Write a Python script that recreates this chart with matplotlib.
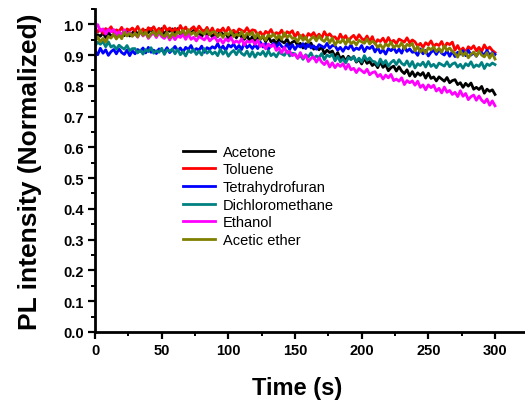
import numpy as np
import matplotlib
matplotlib.use("Agg")
import matplotlib.pyplot as plt
from matplotlib.ticker import MultipleLocator, FormatStrFormatter

plt.rcParams.update({
    "font.family": ["Liberation Sans", "DejaVu Sans"],
    "font.weight": "bold",
})

# time axis, one reading every 2 s
time = np.arange(0, 301, 2)

acetone = [
    0.952, 0.966, 0.961, 0.972, 0.957, 0.975, 0.960, 0.967, 0.957, 0.972, 0.968, 0.963, 0.978, 0.962, 0.972,
    0.981, 0.967, 0.977, 0.964, 0.980, 0.973, 0.986, 0.969, 0.977, 0.972, 0.986, 0.966, 0.981, 0.977, 0.985,
    0.972, 0.986, 0.967, 0.976, 0.962, 0.979, 0.971, 0.980, 0.963, 0.973, 0.959, 0.980, 0.964, 0.971, 0.959,
    0.973, 0.960, 0.980, 0.963, 0.973, 0.954, 0.965, 0.971, 0.956, 0.971, 0.958, 0.951, 0.964, 0.945, 0.960,
    0.945, 0.958, 0.951, 0.961, 0.943, 0.960, 0.943, 0.949, 0.937, 0.951, 0.945, 0.939, 0.952, 0.934, 0.942,
    0.946, 0.931, 0.938, 0.923, 0.937, 0.928, 0.939, 0.919, 0.925, 0.917, 0.927, 0.904, 0.916, 0.908, 0.913,
    0.895, 0.908, 0.888, 0.896, 0.880, 0.896, 0.887, 0.895, 0.877, 0.886, 0.871, 0.890, 0.873, 0.879, 0.866,
    0.873, 0.859, 0.878, 0.860, 0.869, 0.849, 0.859, 0.864, 0.848, 0.862, 0.848, 0.840, 0.852, 0.832, 0.846,
    0.830, 0.842, 0.834, 0.843, 0.825, 0.841, 0.824, 0.829, 0.816, 0.829, 0.822, 0.815, 0.827, 0.810, 0.817,
    0.820, 0.804, 0.810, 0.795, 0.808, 0.799, 0.809, 0.789, 0.795, 0.788, 0.798, 0.776, 0.789, 0.782, 0.787,
    0.772,
]
toluene = [
    0.989, 0.975, 0.984, 0.971, 0.986, 0.979, 0.992, 0.974, 0.982, 0.977, 0.990, 0.970, 0.985, 0.980, 0.988,
    0.978, 0.993, 0.975, 0.985, 0.971, 0.989, 0.982, 0.992, 0.976, 0.987, 0.974, 0.995, 0.980, 0.988, 0.977,
    0.987, 0.975, 0.996, 0.980, 0.991, 0.973, 0.985, 0.992, 0.978, 0.994, 0.982, 0.976, 0.990, 0.972, 0.988,
    0.969, 0.983, 0.977, 0.988, 0.972, 0.990, 0.974, 0.981, 0.970, 0.985, 0.980, 0.975, 0.989, 0.973, 0.982,
    0.980, 0.966, 0.975, 0.962, 0.977, 0.970, 0.983, 0.965, 0.973, 0.968, 0.981, 0.961, 0.976, 0.971, 0.979,
    0.959, 0.974, 0.956, 0.966, 0.952, 0.970, 0.963, 0.973, 0.957, 0.968, 0.955, 0.976, 0.961, 0.969, 0.958,
    0.959, 0.947, 0.968, 0.952, 0.963, 0.945, 0.957, 0.964, 0.950, 0.966, 0.954, 0.948, 0.962, 0.944, 0.960,
    0.936, 0.950, 0.944, 0.955, 0.939, 0.957, 0.941, 0.948, 0.937, 0.952, 0.947, 0.942, 0.956, 0.940, 0.949,
    0.943, 0.929, 0.938, 0.925, 0.940, 0.933, 0.946, 0.928, 0.936, 0.931, 0.944, 0.924, 0.939, 0.934, 0.942,
    0.916, 0.931, 0.913, 0.923, 0.909, 0.927, 0.920, 0.930, 0.914, 0.925, 0.912, 0.933, 0.918, 0.926, 0.915,
    0.908,
]
thf = [
    0.913, 0.901, 0.922, 0.906, 0.917, 0.899, 0.911, 0.918, 0.904, 0.920, 0.908, 0.902, 0.916, 0.898, 0.914,
    0.904, 0.918, 0.912, 0.923, 0.907, 0.925, 0.909, 0.916, 0.905, 0.920, 0.915, 0.910, 0.924, 0.908, 0.917,
    0.928, 0.914, 0.923, 0.910, 0.925, 0.918, 0.931, 0.913, 0.921, 0.916, 0.929, 0.909, 0.924, 0.919, 0.927,
    0.922, 0.937, 0.919, 0.929, 0.915, 0.933, 0.926, 0.936, 0.920, 0.931, 0.918, 0.939, 0.924, 0.932, 0.921,
    0.933, 0.921, 0.942, 0.926, 0.937, 0.919, 0.931, 0.938, 0.924, 0.940, 0.928, 0.922, 0.936, 0.918, 0.934,
    0.918, 0.932, 0.926, 0.937, 0.921, 0.939, 0.923, 0.930, 0.919, 0.934, 0.929, 0.924, 0.938, 0.922, 0.931,
    0.930, 0.916, 0.925, 0.912, 0.927, 0.920, 0.933, 0.915, 0.923, 0.918, 0.931, 0.911, 0.926, 0.921, 0.929,
    0.910, 0.925, 0.907, 0.917, 0.903, 0.921, 0.914, 0.924, 0.908, 0.919, 0.906, 0.927, 0.912, 0.920, 0.909,
    0.911, 0.899, 0.920, 0.904, 0.915, 0.897, 0.909, 0.916, 0.902, 0.918, 0.906, 0.900, 0.914, 0.896, 0.912,
    0.895, 0.909, 0.903, 0.914, 0.898, 0.916, 0.900, 0.907, 0.896, 0.911, 0.906, 0.901, 0.915, 0.899, 0.908,
    0.902,
]
dcm = [
    0.930, 0.942, 0.935, 0.944, 0.927, 0.943, 0.926, 0.931, 0.919, 0.932, 0.925, 0.919, 0.931, 0.914, 0.921,
    0.921, 0.907, 0.916, 0.903, 0.918, 0.911, 0.924, 0.906, 0.914, 0.909, 0.922, 0.902, 0.917, 0.912, 0.920,
    0.904, 0.919, 0.901, 0.911, 0.897, 0.915, 0.908, 0.918, 0.902, 0.913, 0.900, 0.921, 0.906, 0.914, 0.903,
    0.910, 0.898, 0.919, 0.903, 0.914, 0.896, 0.908, 0.915, 0.901, 0.917, 0.905, 0.899, 0.913, 0.895, 0.911,
    0.893, 0.907, 0.901, 0.912, 0.896, 0.914, 0.898, 0.905, 0.894, 0.909, 0.904, 0.899, 0.913, 0.897, 0.906,
    0.904, 0.890, 0.899, 0.886, 0.901, 0.894, 0.907, 0.889, 0.897, 0.892, 0.905, 0.885, 0.900, 0.895, 0.903,
    0.881, 0.896, 0.878, 0.888, 0.874, 0.892, 0.885, 0.895, 0.879, 0.890, 0.877, 0.898, 0.883, 0.891, 0.880,
    0.878, 0.866, 0.887, 0.871, 0.882, 0.864, 0.876, 0.883, 0.869, 0.885, 0.873, 0.867, 0.881, 0.863, 0.879,
    0.858, 0.872, 0.866, 0.877, 0.861, 0.879, 0.863, 0.870, 0.859, 0.874, 0.869, 0.864, 0.878, 0.862, 0.871,
    0.875, 0.861, 0.870, 0.857, 0.872, 0.865, 0.878, 0.860, 0.868, 0.863, 0.876, 0.856, 0.871, 0.866, 0.874,
    0.869,
]
ethanol = [
    0.987, 0.999, 0.978, 0.985, 0.968, 0.984, 0.975, 0.983, 0.966, 0.976, 0.962, 0.982, 0.967, 0.974, 0.962,
    0.970, 0.958, 0.978, 0.962, 0.972, 0.954, 0.965, 0.972, 0.957, 0.973, 0.960, 0.954, 0.967, 0.949, 0.964,
    0.950, 0.963, 0.957, 0.967, 0.951, 0.968, 0.951, 0.958, 0.946, 0.960, 0.955, 0.949, 0.962, 0.946, 0.954,
    0.958, 0.943, 0.952, 0.938, 0.953, 0.945, 0.957, 0.939, 0.946, 0.940, 0.953, 0.932, 0.946, 0.941, 0.948,
    0.935, 0.948, 0.928, 0.936, 0.920, 0.936, 0.927, 0.934, 0.915, 0.923, 0.907, 0.925, 0.907, 0.912, 0.898,
    0.903, 0.889, 0.908, 0.890, 0.899, 0.879, 0.889, 0.894, 0.877, 0.891, 0.877, 0.869, 0.881, 0.861, 0.875,
    0.859, 0.871, 0.863, 0.872, 0.854, 0.870, 0.852, 0.857, 0.843, 0.856, 0.849, 0.842, 0.854, 0.836, 0.843,
    0.846, 0.830, 0.837, 0.822, 0.835, 0.826, 0.837, 0.817, 0.822, 0.815, 0.826, 0.804, 0.817, 0.810, 0.816,
    0.802, 0.815, 0.795, 0.803, 0.787, 0.803, 0.794, 0.802, 0.783, 0.792, 0.777, 0.796, 0.779, 0.785, 0.772,
    0.779, 0.765, 0.784, 0.766, 0.775, 0.755, 0.765, 0.770, 0.753, 0.767, 0.753, 0.745, 0.757, 0.737, 0.751,
    0.735,
]
acetic_ether = [
    0.943, 0.959, 0.943, 0.954, 0.942, 0.961, 0.955, 0.967, 0.952, 0.965, 0.953, 0.975, 0.962, 0.971, 0.961,
    0.971, 0.959, 0.980, 0.964, 0.975, 0.957, 0.969, 0.976, 0.962, 0.978, 0.966, 0.960, 0.974, 0.956, 0.972,
    0.962, 0.976, 0.970, 0.981, 0.965, 0.983, 0.967, 0.974, 0.963, 0.978, 0.973, 0.968, 0.982, 0.966, 0.975,
    0.975, 0.961, 0.970, 0.957, 0.972, 0.965, 0.978, 0.960, 0.968, 0.963, 0.976, 0.956, 0.971, 0.966, 0.974,
    0.955, 0.970, 0.952, 0.962, 0.948, 0.966, 0.959, 0.969, 0.953, 0.964, 0.951, 0.972, 0.957, 0.965, 0.954,
    0.955, 0.943, 0.964, 0.948, 0.959, 0.941, 0.953, 0.960, 0.946, 0.962, 0.950, 0.944, 0.958, 0.940, 0.956,
    0.932, 0.946, 0.940, 0.951, 0.935, 0.953, 0.937, 0.944, 0.933, 0.948, 0.943, 0.938, 0.952, 0.936, 0.945,
    0.939, 0.925, 0.934, 0.921, 0.936, 0.929, 0.942, 0.924, 0.932, 0.927, 0.940, 0.920, 0.935, 0.930, 0.938,
    0.913, 0.928, 0.910, 0.920, 0.906, 0.924, 0.917, 0.927, 0.911, 0.922, 0.909, 0.930, 0.915, 0.923, 0.912,
    0.905, 0.893, 0.914, 0.898, 0.909, 0.891, 0.903, 0.910, 0.896, 0.912, 0.900, 0.894, 0.908, 0.890, 0.906,
    0.887,
]

SERIES = [
    ("Acetone", acetone, "black"),
    ("Toluene", toluene, "#FF0000"),
    ("Tetrahydrofuran", thf, "#0000FF"),
    ("Dichloromethane", dcm, "#008080"),
    ("Ethanol", ethanol, "#FF00FF"),
    ("Acetic ether", acetic_ether, "#808000"),
]

fig = plt.figure(figsize=(5.25, 4.06), dpi=100)
ax = fig.add_axes([0.181, 0.180, 0.819, 0.7956])

for lbl, vals, col in SERIES:
    ax.plot(time, vals, color=col, lw=2.0, label=lbl)

ax.set_xlim(0, 322.5)
ax.set_ylim(0, 1.05)
ax.xaxis.set_major_locator(MultipleLocator(50))
ax.xaxis.set_minor_locator(MultipleLocator(25))
ax.yaxis.set_major_locator(MultipleLocator(0.1))
ax.yaxis.set_minor_locator(MultipleLocator(0.05))
ax.yaxis.set_major_formatter(FormatStrFormatter("%.1f"))

for s in ["top", "right"]:
    ax.spines[s].set_visible(False)
for s in ["left", "bottom"]:
    ax.spines[s].set_linewidth(2)
ax.tick_params(which="major", direction="out", length=5, width=1.6, labelsize=10.5, pad=3)
ax.tick_params(which="minor", direction="out", length=3, width=1.4)
for t in ax.get_xticklabels() + ax.get_yticklabels():
    t.set_fontweight("bold")

ax.set_xlabel("Time (s)", fontsize=17, fontweight="bold")
ax.set_ylabel("PL intensity (Normalized)", fontsize=19, fontweight="bold")
ax.xaxis.set_label_coords(0.47, -0.136)
ax.yaxis.set_label_coords(-0.123, 0.5)

leg = ax.legend(loc="upper left", bbox_to_anchor=(0.175, 0.62), frameon=False,
                fontsize=10.5, handlelength=2.2, handletextpad=0.5, labelspacing=0.25)
for t in leg.get_texts():
    t.set_fontweight("normal")
for h in leg.get_lines():
    h.set_linewidth(2.0)

fig.savefig("out.png", dpi=100)
